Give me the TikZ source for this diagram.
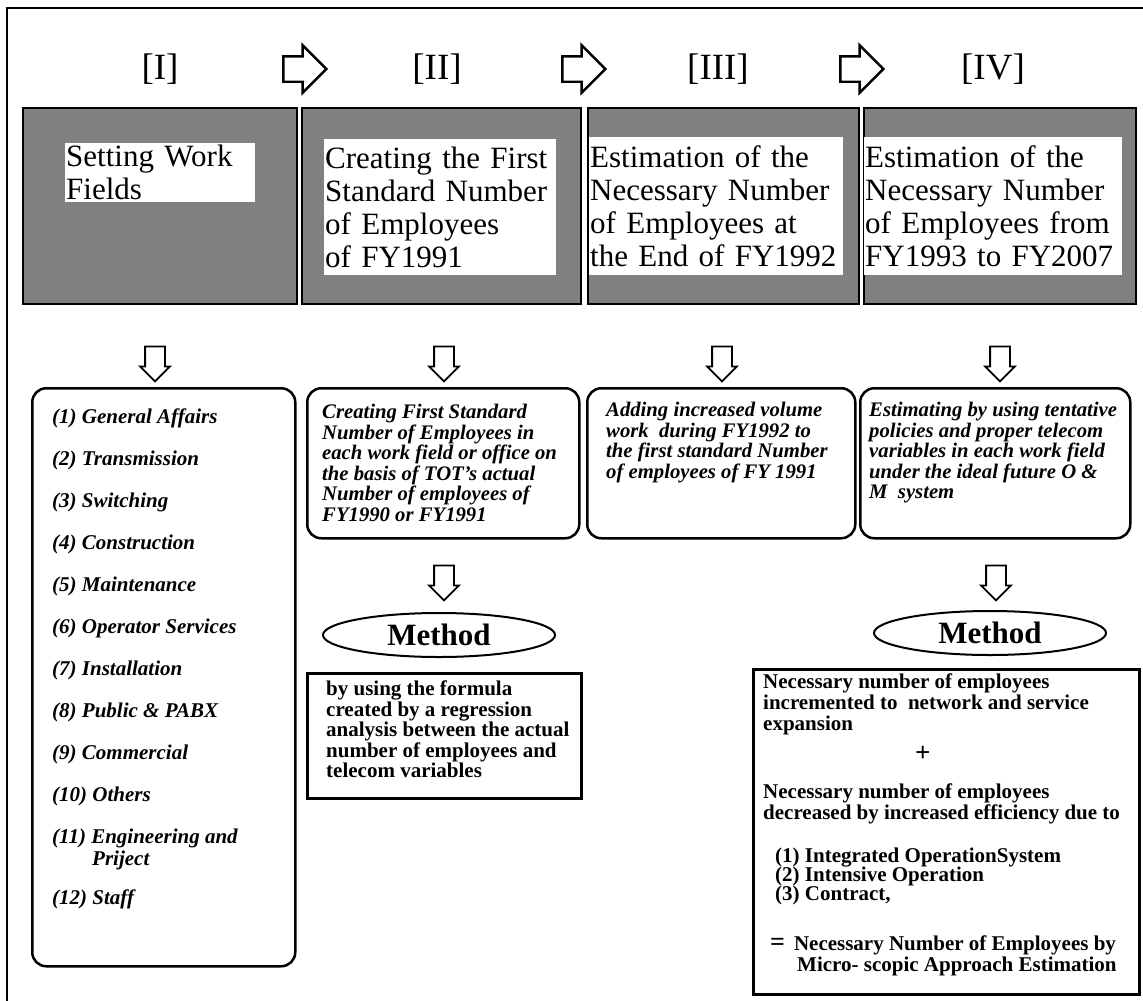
\documentclass[tikz,border=0pt]{standalone}
\usepackage{fontspec}
\setmainfont{Liberation Serif}
\usetikzlibrary{positioning,calc,shapes.geometric,shapes.arrows}

\begin{document}
\begin{tikzpicture}[
    x=1pt, y=-1pt,
    step_label/.style={font=\fontsize{37}{38}\selectfont, inner sep=0pt},
    flow_arrow/.style={single arrow, draw, fill=white, line width=2.4pt, inner xsep=0pt, inner ysep=11.5pt,
        minimum height=43pt, single arrow head extend=11pt},
    down_arrow/.style={single arrow, draw, fill=white, line width=1.8pt, inner xsep=0pt, inner ysep=9pt,
        rotate=-90, minimum height=35pt, single arrow head extend=5pt},
    phase_box/.style={draw, line width=2pt, fill=black!50, anchor=north west, minimum height=196pt, inner sep=0pt},
    title_box/.style={fill=white, anchor=north west, align=left, inner ysep=2pt, inner xsep=1pt, font=\fontsize{31}{33}\selectfont},
    work_box/.style={draw, line width=2.5pt, rounded corners=14pt, anchor=north west, minimum height=150pt, inner sep=0pt},
    work_text/.style={anchor=north west, align=left, inner sep=0pt, font=\bfseries\itshape\fontsize{20.7}{20.5}\selectfont},
    method_oval/.style={ellipse, draw, line width=2pt, minimum width=232pt, minimum height=44pt, inner sep=0pt, font=\bfseries\fontsize{31}{31}\selectfont},
    method_box/.style={draw, line width=2.5pt, anchor=north west, inner sep=0pt},
    method_text/.style={anchor=north west, align=left, inner sep=0pt, font=\bfseries\fontsize{21}{21}\selectfont}
]
\useasboundingbox (0,0) rectangle (1143,1001);
\draw[line width=2.5pt] (7,1001) -- (7,8) -- (1143,8);

\node (s1) [step_label] at (160,69) {[I]};
\node (s2) [step_label] at (437,69) {[II]};
\node (s3) [step_label] at (718,69) {[III]};
\node (s4) [step_label] at (993,69) {[IV]};
\node (a12) [flow_arrow] at ($(s1)!0.5!(s2)$) {};
\node (a23) [flow_arrow] at ($(s2)!0.5!(s3)$) {};
\node (a34) [flow_arrow] at ($(s3)!0.5!(s4)$) {};

\node (p1) [phase_box, minimum width=274pt] at (22,107) {};
\node (p2) [phase_box, minimum width=279pt, below right=0pt and 3pt of p1.north east] {};
\node (p3) [phase_box, minimum width=271pt, below right=0pt and 5pt of p2.north east] {};
\node (p4) [phase_box, minimum width=272pt, below right=0pt and 3pt of p3.north east] {};

\node (t1) [title_box, text width=188pt] at (65,143) {Setting Work\\Fields};
\node (t2) [title_box, text width=230pt, minimum height=136pt] at (324,139)
    {Creating the First\\Standard Number\\of Employees\\of FY1991};
\node (t3) [title_box, text width=252pt, minimum height=138pt] at (589,137)
    {Estimation of the\\Necessary Number\\of Employees at\\the End of FY1992};
\node (t4) [title_box, text width=256pt, minimum height=138pt] at (864,137)
    {Estimation of the\\Necessary Number\\of Employees from\\FY1993 to FY2007};

\node (d1) [down_arrow] at (155,359) {};
\node (d2) [down_arrow] at (444,359) {};
\node (d3) [down_arrow] at (722,359) {};
\node (d4) [down_arrow] at (1000,359) {};

\node (w1) [work_box, minimum width=263pt, minimum height=578pt] at (31,387) {};
\node (w2) [work_box, minimum width=272pt] at (306,387) {};
\node (w3) [work_box, minimum width=268pt] at (586,387) {};
\node (w4) [work_box, minimum width=270pt] at (859,387) {};

\node (fields) [work_text, font=\bfseries\itshape\fontsize{21}{42}\selectfont,
    below right=22pt and 21pt of w1.north west]
    {(1) General Affairs\\
     (2) Transmission\\
     (3) Switching\\
     (4) Construction\\
     (5) Maintenance\\
     (6) Operator Services\\
     (7) Installation\\
     (8) Public \& PABX\\
     (9) Commercial\\
     (10) Others\\
     (11) Engineering and\\[-20pt]
     \hspace*{40pt}Priject\\[-3pt]
     (12) Staff};
\node (w2txt) [work_text, below right=17pt and 16pt of w2.north west]
    {Creating First Standard\\
     Number of Employees in\\
     each work field or office on\\
     the basis of TOT's actual\\
     Number of employees of\\
     FY1990 or FY1991};
\node (w3txt) [work_text, below right=15pt and 20pt of w3.north west]
    {Adding increased volume\\
     work\ \ during FY1992 to\\
     the first standard Number\\
     of employees of FY 1991};
\node (w4txt) [work_text, below right=15pt and 10pt of w4.north west]
    {Estimating by using tentative\\
     policies and proper telecom\\
     variables in each work field\\
     under the ideal future O \&\\
     M\ \ system};

\node (d5) [down_arrow] at (444,578) {};
\node (d6) [down_arrow] at (996,578) {};

\node (o2) [method_oval] at (439,635) {Method};
\node (o4) [method_oval] at (990,633) {Method};

\node (m2) [method_box, minimum width=274pt, minimum height=125pt] at (306,672) {};
\node (m4) [method_box, minimum width=386pt, minimum height=325pt] at (752,668) {};

\node (m2txt) [method_text, font=\bfseries\fontsize{21}{20.5}\selectfont,
    below right=9pt and 20pt of m2.north west]
    {by using the formula\\
     created by a regression\\
     analysis between the actual\\
     number of employees and\\
     telecom variables};
\node (m4txt) [method_text, below right=6pt and 11pt of m4.north west]
    {Necessary number of employees\\
     incremented to\ \ network and service\\
     expansion\\[10pt]
     \hspace*{152pt}{\fontsize{27}{21}\selectfont +}\\[16pt]
     Necessary number of employees\\
     decreased by increased efficiency due to\\[22pt]
     \hspace*{12pt}(1) Integrated OperationSystem\\[-2pt]
     \hspace*{12pt}(2) Intensive Operation\\[-2pt]
     \hspace*{12pt}(3) Contract,\\[29pt]
     \hspace*{7pt}{\fontsize{26}{21}\selectfont =}\hspace*{9pt}Necessary Number of Employees by\\
     \hspace*{34pt}Micro- scopic Approach Estimation};
\end{tikzpicture}
\end{document}
